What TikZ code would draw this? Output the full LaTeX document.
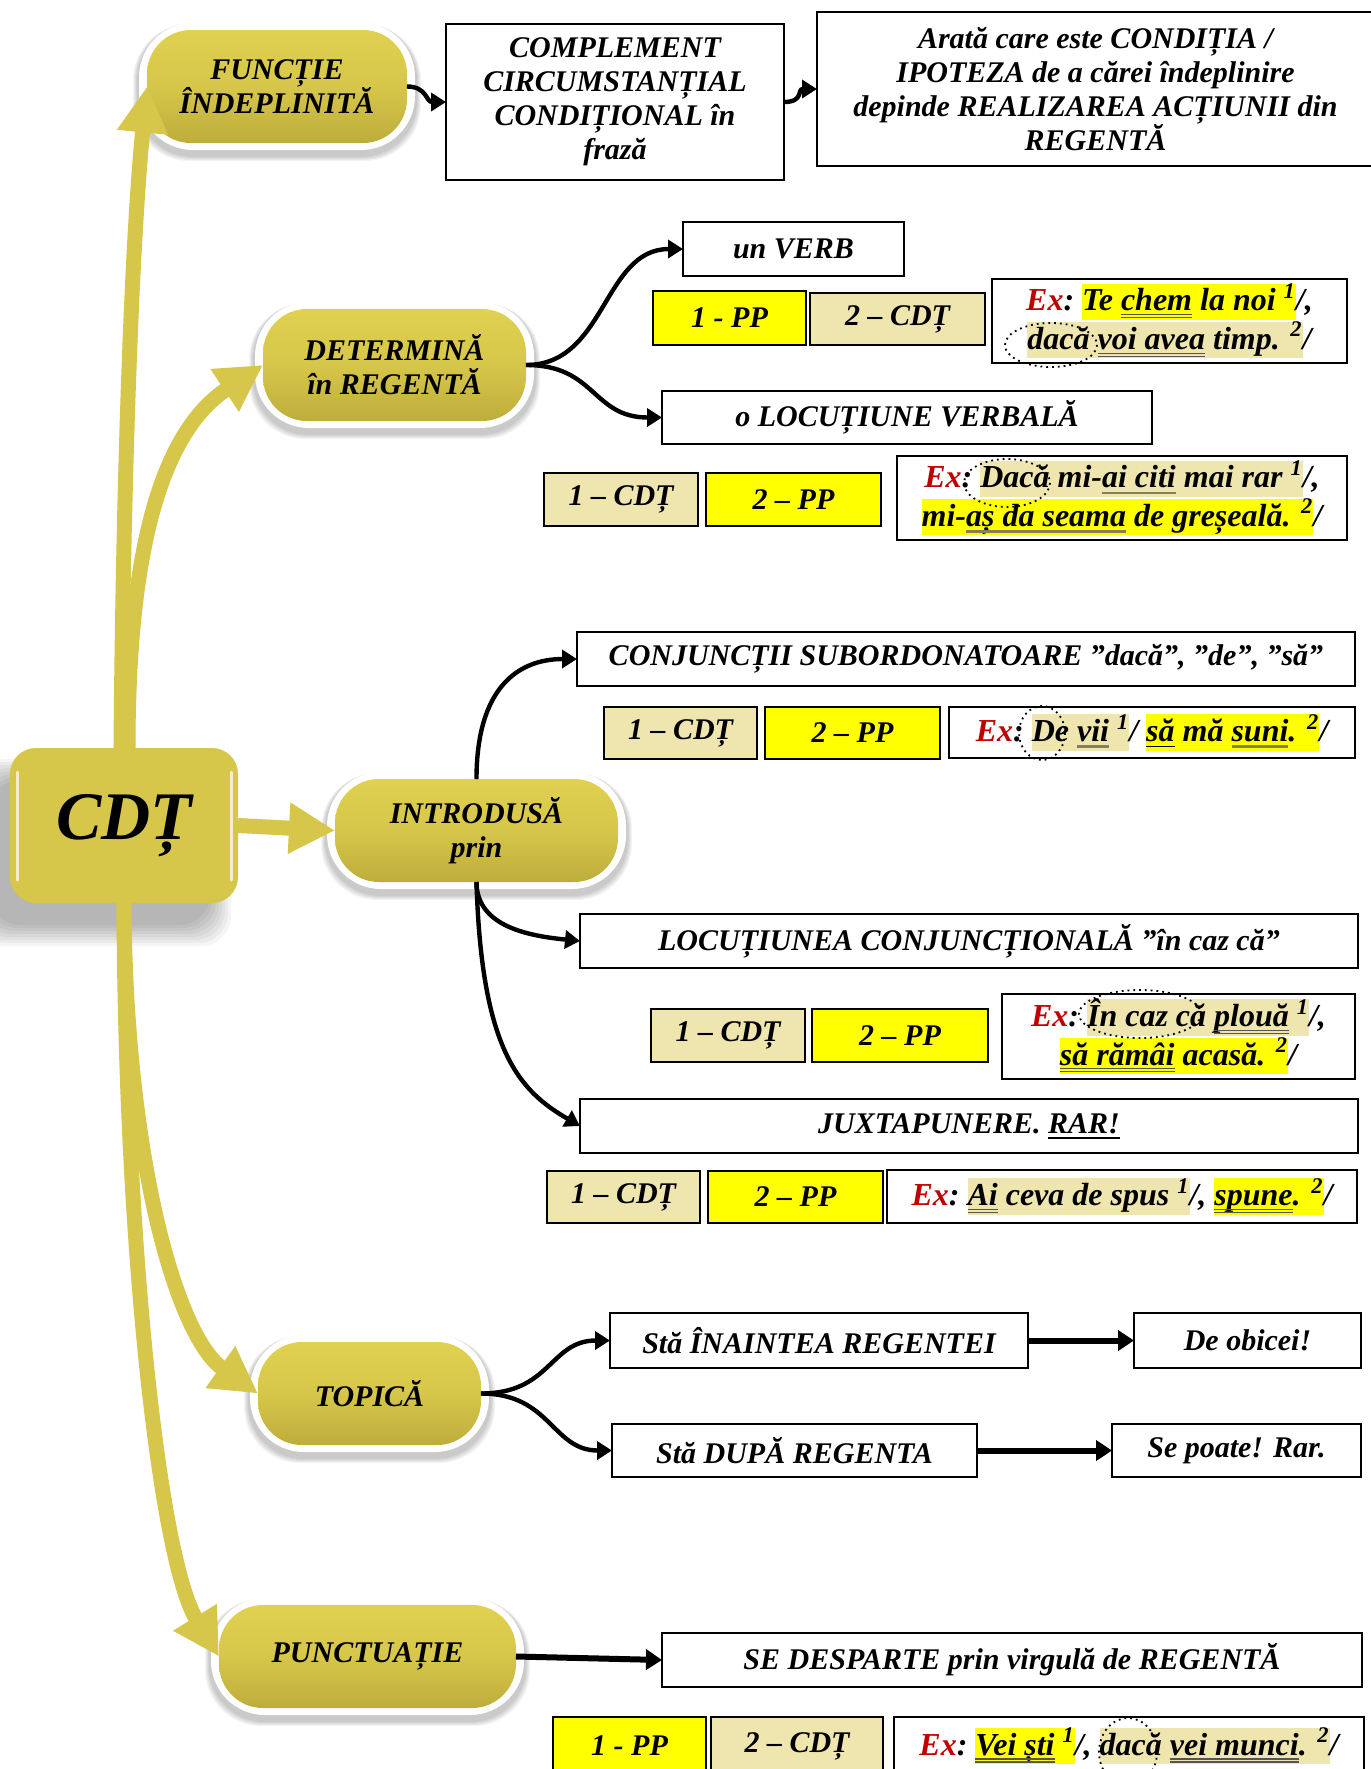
\documentclass[tikz,border=0pt]{standalone}
\usepackage{fontspec}
\setmainfont{Liberation Serif}
\usetikzlibrary{arrows.meta}
\definecolor{gold}{HTML}{D6C64A}
\definecolor{goldtop}{HTML}{E0D150}
\definecolor{goldbot}{HTML}{BDAE3C}
\definecolor{hlyel}{HTML}{FFFF00}
\definecolor{beige}{HTML}{EEE5AF}
\definecolor{exred}{HTML}{C00000}
\definecolor{ulgray}{HTML}{555555}
\definecolor{ulolive}{HTML}{858055}
\newcommand\hlstrut{\rule[-4.5pt]{0pt}{16.5pt}}
\newcommand\hy[1]{{\setlength\fboxsep{0pt}\colorbox{hlyel}{\hlstrut#1}}}
\newcommand\hb[1]{{\setlength\fboxsep{0pt}\colorbox{beige}{\hlstrut#1}}}
\newsavebox\ulbox
\newcommand\dul[1]{\sbox\ulbox{#1}\rlap{\usebox\ulbox}\rlap{\color{ulgray}\vrule height -1.6pt depth 2.2pt width \wd\ulbox\relax}{\color{ulgray}\vrule height -3.1pt depth 3.7pt width \wd\ulbox\relax}}
\newcommand\gul[1]{\sbox\ulbox{#1}\rlap{\usebox\ulbox}{\color{ulolive}\vrule height -1.8pt depth 3.2pt width \wd\ulbox\relax}}
\newcommand\sul[1]{\sbox\ulbox{#1}\rlap{\usebox\ulbox}\vrule height -2.0pt depth 2.9pt width \wd\ulbox\relax}
\newcommand\exl{\textcolor{exred}{Ex}:~}
\newcommand\sps[1]{\textsuperscript{#1}}
% name x1 y1 x2 y2 style text
\newcommand\bx[7]{\node[#6, minimum width={((#4)-(#2))*0.5pt}, minimum height={((#5)-(#3))*0.5pt}] (#1) at ({((#2)+(#4))/2},{((#3)+(#5))/2}) {#7};}
\newcommand\pill[6]{%
  \foreach \k in {1,...,5}{\fill[black, opacity=0.045, rounded corners=28pt] ({#2-9-\k},{#3-6}) rectangle ({#4+9+\k},{#5+13+\k});}
  \fill[white, rounded corners=27pt] ({#2-8},{#3-7}) rectangle ({#4+8},{#5+7});
  \bx{#1}{#2}{#3}{#4}{#5}{pillst}{#6}}
\begin{document}
\begin{tikzpicture}[x=0.5pt,y=-0.5pt,
  txt/.style={font=\bfseries\itshape\fontsize{15}{17}\selectfont, align=center, inner sep=1pt, outer sep=0pt},
  extxt/.style={font=\bfseries\itshape\fontsize{16}{16.5}\selectfont, align=center, inner sep=1pt, outer sep=0pt},
  wbox/.style={txt, draw=black, line width=1pt, fill=white},
  ybox/.style={txt, draw=black, line width=1pt, fill=hlyel},
  bbox/.style={txt, draw=black, line width=1pt, fill=beige},
  exbox/.style={extxt, draw=black, line width=1pt, fill=white},
  pillst/.style={txt, rounded corners=22pt, top color=goldtop, bottom color=goldbot, middle color=gold},
  cdtst/.style={font=\bfseries\itshape\fontsize{34}{36}\selectfont, fill=gold, rounded corners=13pt, inner sep=0pt, outer sep=0pt},
  yarrow/.style={draw=gold, line width=7.5pt, -{Triangle[width=24pt,length=23pt]}},
  barrow/.style={draw=black, line width=2.2pt, -{Triangle[width=9pt,length=7.5pt]}},
  bthick/.style={draw=black, line width=3pt, -{Triangle[width=10pt,length=8pt]}},
  dotell/.style={draw=black, line width=0.9pt, dotted}]
\useasboundingbox (0,0) rectangle (1371,1769);
\fill[white] (0,0) rectangle (1371,1769);
% CDT shadow
\foreach \k in {0,...,7}{\fill[black, opacity=0.04, rounded corners=15pt] ({-10-3*\k},{780-3*\k}) rectangle ({210+3*\k},{925+3*\k});}
\bx{cdt}{10}{748}{238}{903}{cdtst}{CDȚ}
\draw[white, opacity=.7, line width=1.5pt, line cap=round] (17,772) -- (17,880);
\draw[white, opacity=.7, line width=1.5pt, line cap=round] (231,772) -- (231,880);
% pills
\pill{func}{147}{30}{407}{143}{FUNCȚIE\\ÎNDEPLINITĂ}
\pill{det}{263}{309}{526}{421}{DETERMINĂ\\în REGENTĂ}
\pill{intro}{335}{779}{618}{882}{INTRODUSĂ\\prin}
\pill{topica}{258}{1342}{481}{1445}{TOPICĂ}
\pill{punct}{219}{1605}{516}{1708}{PUNCTUAȚIE}
% top row
\bx{comp}{446}{24}{784}{180}{wbox}{COMPLEMENT\\CIRCUMSTANȚIAL\\CONDIȚIONAL în\\frază}
\bx{arata}{817}{12}{1374}{166}{wbox}{Arată care este CONDIȚIA /\\IPOTEZA de a cărei îndeplinire\\depinde REALIZAREA ACȚIUNII din\\REGENTĂ}
% determina
\bx{verb}{683}{222}{904}{276}{wbox}{un VERB}
\bx{pp1}{653}{291}{806}{345}{ybox}{1 - PP}
\bx{cd1}{810}{293}{985}{345}{bbox}{2 – CDȚ}
\bx{ex1}{992}{279}{1347}{363}{exbox}{\exl\hy{Te \dul{chem} la noi \sps{1}}/,\\\hb{dacă \dul{voi avea} timp. \sps{2}}/}
\bx{locv}{662}{391}{1152}{444}{wbox}{o LOCUȚIUNE VERBALĂ}
\bx{cd2}{544}{473}{698}{526}{bbox}{1 – CDȚ}
\bx{pp2}{706}{473}{881}{526}{ybox}{2 – PP}
\bx{ex2}{897}{456}{1347}{540}{exbox}{\exl\hb{Dacă mi-\gul{ai citi} mai rar \sps{1}}/,\\\hy{mi-\gul{aș da seama} de greșeală. \sps{2}}/}
% introdusa
\bx{conj}{577}{632}{1355}{686}{wbox}{CONJUNCȚII SUBORDONATOARE ”dacă”, ”de”, ”să”}
\bx{cd3}{604}{707}{757}{759}{bbox}{1 – CDȚ}
\bx{pp3}{765}{707}{940}{759}{ybox}{2 – PP}
\bx{ex3}{949}{707}{1355}{758}{exbox}{\exl\hb{De \gul{vii} \sps{1}}/ \hy{\sul{să} mă \gul{suni}. \sps{2}}/}
\bx{locc}{580}{914}{1358}{968}{wbox}{LOCUȚIUNEA CONJUNCȚIONALĂ ”în caz că”}
\bx{cd4}{651}{1009}{805}{1062}{bbox}{1 – CDȚ}
\bx{pp4}{812}{1009}{988}{1062}{ybox}{2 – PP}
\bx{ex4}{1002}{994}{1355}{1079}{exbox}{\exl\hb{În caz că \dul{plouă} \sps{1}}/,\\\hy{\dul{să rămâi} acasă. \sps{2}}/}
\bx{juxt}{580}{1099}{1358}{1153}{wbox}{JUXTAPUNERE. \sul{RAR!}}
\bx{cd5}{547}{1171}{700}{1223}{bbox}{1 – CDȚ}
\bx{pp5}{708}{1171}{883}{1223}{ybox}{2 – PP}
\bx{ex5}{887}{1170}{1357}{1223}{exbox}{\exl\hb{\dul{Ai} ceva de spus \sps{1}}/, \hy{\dul{spune}. \sps{2}}/}
% topica
\bx{ina}{610}{1313}{1028}{1368}{wbox}{Stă ÎNAINTEA REGENTEI}
\bx{deob}{1134}{1313}{1361}{1368}{wbox}{De obicei!}
\bx{dupa}{612}{1424}{977}{1477}{wbox}{Stă DUPĂ REGENTA}
\bx{sepo}{1112}{1424}{1361}{1477}{wbox}{Se poate! Rar.}
% punctuatie
\bx{sed}{662}{1633}{1362}{1687}{wbox}{SE DESPARTE prin virgulă de REGENTĂ}
\bx{pp6}{553}{1717}{706}{1775}{ybox}{1 - PP}
\bx{cd6}{711}{1717}{883}{1775}{bbox}{2 – CDȚ}
\bx{ex6}{894}{1717}{1364}{1775}{exbox}{\exl\hy{\dul{Vei ști} \sps{1}}/, \hb{dacă \dul{vei munci}. \sps{2}}/}
% dotted ellipses
\draw[dotell] (1051,345) ellipse [x radius=46, y radius=22];
\draw[dotell] (1007,483) ellipse [x radius=43, y radius=24];
\draw[dotell] (1042,733) ellipse [x radius=23, y radius=27];
\draw[dotell] (1140,1014) ellipse [x radius=61, y radius=24];
\draw[dotell] (1128,1752) ellipse [x radius=29, y radius=34];
% yellow connectors
\draw[yarrow] ([xshift=-1.5pt]cdt.north) .. controls (123,500) and (131,250) .. (func.west);
\draw[yarrow] ([xshift=2pt]cdt.north) .. controls (128,540) and (165,430) .. (det.west);
\draw[yarrow] (cdt.east) -- (intro.west);
\draw[yarrow] (cdt.south) .. controls (125,1150) and (175,1335) .. (topica.west);
\draw[yarrow] (cdt.south) .. controls (125,1250) and (160,1560) .. (punct.west);
% black connectors
\draw[barrow] (func.east) .. controls +(20,0) and +(-20,0) .. (comp.west);
\draw[barrow] (comp.east) .. controls +(20,0) and +(-20,0) .. (arata.west);
\draw[barrow] (det.east) .. controls +(80,0) and +(-80,0) .. (verb.west);
\draw[barrow] (det.east) .. controls +(70,0) and +(-70,0) .. (locv.west);
\draw[barrow] (intro.north) .. controls +(0,-90) and +(-60,0) .. (conj.west);
\draw[barrow] (intro.south) .. controls +(0,45) and +(-50,-5) .. (locc.west);
\draw[barrow] (intro.south) .. controls +(5,170) and +(-60,-35) .. (juxt.west);
\draw[barrow] (topica.east) .. controls +(70,0) and +(-60,0) .. (ina.west);
\draw[barrow] (topica.east) .. controls +(70,0) and +(-60,0) .. (dupa.west);
\draw[bthick] (ina.east) -- (deob.west);
\draw[bthick] (dupa.east) -- (sepo.west);
\draw[bthick] (punct.east) -- (sed.west);
\end{tikzpicture}
\end{document}
